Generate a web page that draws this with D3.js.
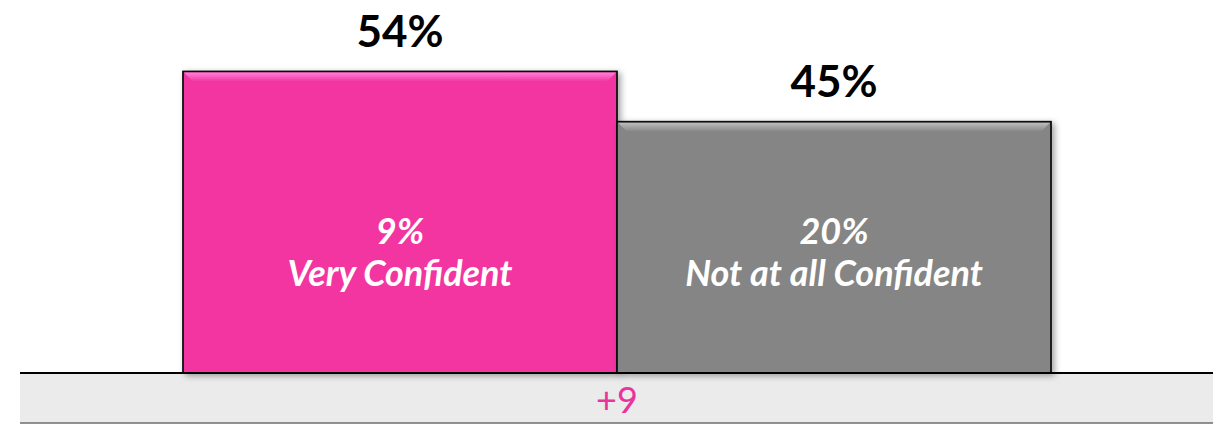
<!DOCTYPE html>
<html lang="en">
<head>
    <meta charset="UTF-8">
    <title>Confidence bars</title>
    <script src="https://d3js.org/d3.v7.min.js"></script>
    <style>
        body { margin: 0; background: #fff; font-family: Lato, "Open Sans", Arial, sans-serif; }
    </style>
</head>
<body>
    <script>
        // Data
        const categories = ["Very Confident", "Not at all Confident"];
        const totals = [54, 45];
        const subValues = [9, 20];
        const barColors = ["#f336a1", "#858585"];
        const bevelColors = ["#ff80da", "#bdbdbd"];
        const netLabel = "+9";

        const width = 1221, height = 425;
        const baseline = 373;

        const svg = d3.select("body").append("svg")
            .attr("width", width)
            .attr("height", height);

        const defs = svg.append("defs");
        const shadow = defs.append("filter")
            .attr("id", "shadow")
            .attr("x", "-10%").attr("y", "-10%")
            .attr("width", "130%").attr("height", "130%");
        shadow.append("feDropShadow")
            .attr("dx", 3).attr("dy", 2)
            .attr("stdDeviation", 3)
            .attr("flood-color", "#000")
            .attr("flood-opacity", 0.35);

        // Scales
        const x = d3.scaleBand()
            .domain(categories)
            .range([183, 1051])
            .padding(0);

        const y = d3.scaleLinear()
            .domain([0, 60])
            .range([baseline, 38]);

        const rows = categories.map((c, i) => ({ cat: c, total: totals[i], sub: subValues[i], i }));

        // Grey band under the baseline
        svg.append("rect")
            .attr("x", 20).attr("y", baseline)
            .attr("width", 1193).attr("height", 50)
            .attr("fill", "#ebebeb");
        svg.append("line")
            .attr("x1", 20).attr("x2", 1213)
            .attr("y1", baseline + 50).attr("y2", baseline + 50)
            .attr("stroke", "#6e6e6e").attr("stroke-width", 1.5);

        // Bars
        const bars = svg.selectAll(".bar")
            .data(rows)
            .enter().append("g")
            .attr("class", "bar");

        bars.append("rect")
            .attr("x", d => x(d.cat))
            .attr("y", d => y(d.total))
            .attr("width", x.bandwidth())
            .attr("height", d => baseline - y(d.total))
            .attr("fill", d => barColors[d.i])
            .attr("stroke", "#111")
            .attr("stroke-width", 1.8)
            .attr("filter", "url(#shadow)");

        // top bevel highlight
        const b = 9;
        rows.forEach(d => {
            const g = defs.append("linearGradient")
                .attr("id", "bevel" + d.i)
                .attr("x1", 0).attr("x2", 0).attr("y1", 0).attr("y2", 1);
            g.append("stop").attr("offset", "0%").attr("stop-color", bevelColors[d.i]);
            g.append("stop").attr("offset", "100%").attr("stop-color", barColors[d.i]);
        });
        bars.append("path")
            .attr("d", d => {
                const x0 = x(d.cat) + 1, x1 = x(d.cat) + x.bandwidth() - 1, y0 = y(d.total) + 1;
                return `M${x0},${y0}L${x1},${y0}L${x1 - b},${y0 + b}L${x0 + b},${y0 + b}Z`;
            })
            .attr("fill", d => `url(#bevel${d.i})`);

        // Total labels above bars
        svg.selectAll(".total")
            .data(rows)
            .enter().append("text")
            .attr("class", "total")
            .attr("x", d => x(d.cat) + x.bandwidth() / 2)
            .attr("y", d => y(d.total) - 25)
            .attr("text-anchor", "middle")
            .style("font-size", "44px")
            .style("font-weight", "bold")
            .attr("fill", "#000")
            .text(d => d.total + "%");

        // Inner labels
        const inner = svg.selectAll(".inner")
            .data(rows)
            .enter().append("text")
            .attr("class", "inner")
            .attr("text-anchor", "middle")
            .style("font-size", "36px")
            .style("font-weight", "bold")
            .style("font-style", "italic")
            .attr("fill", "#fff");
        inner.append("tspan")
            .attr("x", d => x(d.cat) + x.bandwidth() / 2)
            .attr("y", 244)
            .text(d => d.sub + "%");
        inner.append("tspan")
            .attr("x", d => x(d.cat) + x.bandwidth() / 2)
            .attr("y", 286)
            .text(d => d.cat);

        // Baseline
        svg.append("line")
            .attr("x1", 20).attr("x2", 1213)
            .attr("y1", baseline).attr("y2", baseline)
            .attr("stroke", "#000").attr("stroke-width", 2);

        // Net difference label
        svg.append("text")
            .attr("x", x.range()[0] + x.bandwidth())
            .attr("y", 413)
            .attr("text-anchor", "middle")
            .style("font-size", "36px")
            .attr("fill", "#e8359c")
            .text(netLabel);
    </script>
</body>
</html>
